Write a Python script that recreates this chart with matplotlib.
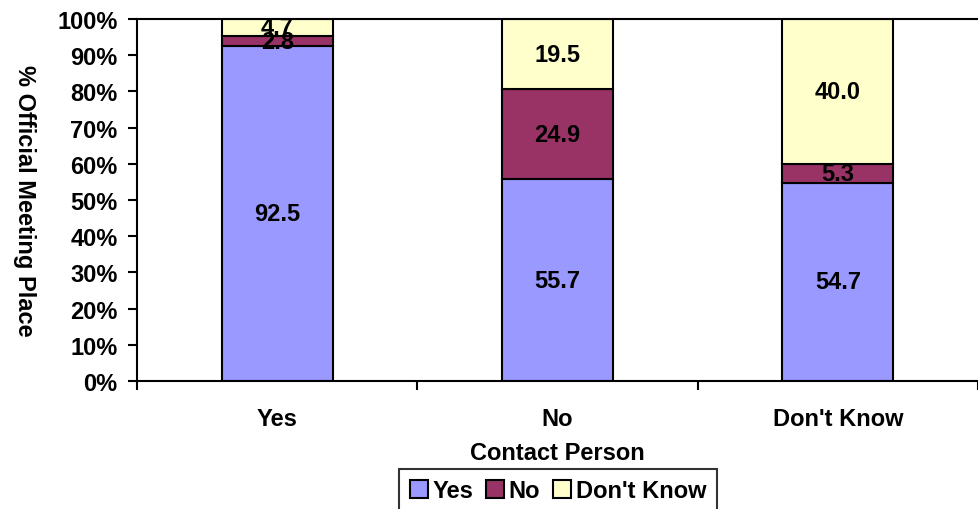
import matplotlib.pyplot as plt
import numpy as np

plt.rcParams['font.family'] = ['Liberation Sans', 'DejaVu Sans']
plt.rcParams['font.weight'] = 'bold'

categories = ["Yes", "No", "Don't Know"]
series_names = ["Yes", "No", "Don't Know"]
yes_vals = [92.5, 55.7, 54.7]
no_vals = [2.8, 24.9, 5.3]
dk_vals = [4.7, 19.5, 40.0]
colors = ["#9999FF", "#993366", "#FFFFCC"]

FS = 17

fig = plt.figure(figsize=(9.79, 5.10), dpi=100)
ax = fig.add_axes([137 / 979, 128 / 510, 841 / 979, 362 / 510])

x = np.arange(len(categories))
bottom = np.zeros(len(categories))
for name, vals, col in zip(series_names, [yes_vals, no_vals, dk_vals], colors):
    bars = ax.bar(x, vals, width=0.395, bottom=bottom, color=col,
                  edgecolor="black", linewidth=1.5, label=name)
    ax.bar_label(bars, labels=["%.1f" % v for v in vals], label_type="center",
                 fontsize=FS, fontweight="bold")
    bottom += np.array(vals)

ax.set_xlim(-0.5, 2.5)
ax.set_ylim(0, 100)
ax.set_yticks(np.arange(0, 101, 10))
ax.set_yticklabels(["%d%%" % v for v in range(0, 101, 10)], fontsize=FS)
ax.tick_params(axis="y", direction="out", length=6.5, width=1.5, pad=7.5)

ax.set_xticks(x)
ax.set_xticklabels(categories, fontsize=FS)
ax.set_xticks([-0.5, 0.5, 1.5, 2.5], minor=True)
ax.tick_params(axis="x", which="major", length=0, pad=19)
ax.tick_params(axis="x", which="minor", direction="out", length=6.5, width=1.5)

ax.set_xlabel("Contact Person", fontsize=FS, fontweight="bold", labelpad=8)
ax.set_ylabel("% Official Meeting Place", fontsize=FS, fontweight="bold",
              rotation=270, ha="center", va="center")
ax.yaxis.set_label_coords(-113 / 841, 0.5)

for side in ["left", "bottom", "top"]:
    ax.spines[side].set_linewidth(1.5)
ax.spines["right"].set_visible(False)

leg = fig.legend(loc="upper center", bbox_to_anchor=(0.57, 0.079), ncol=3,
                 fontsize=FS, frameon=True, fancybox=False, edgecolor="black",
                 handlelength=0.75, handleheight=0.75, handletextpad=0.2,
                 columnspacing=0.55, borderpad=0.45, borderaxespad=0)
leg.get_frame().set_linewidth(1.5)

fig.savefig("out.png", dpi=100)
